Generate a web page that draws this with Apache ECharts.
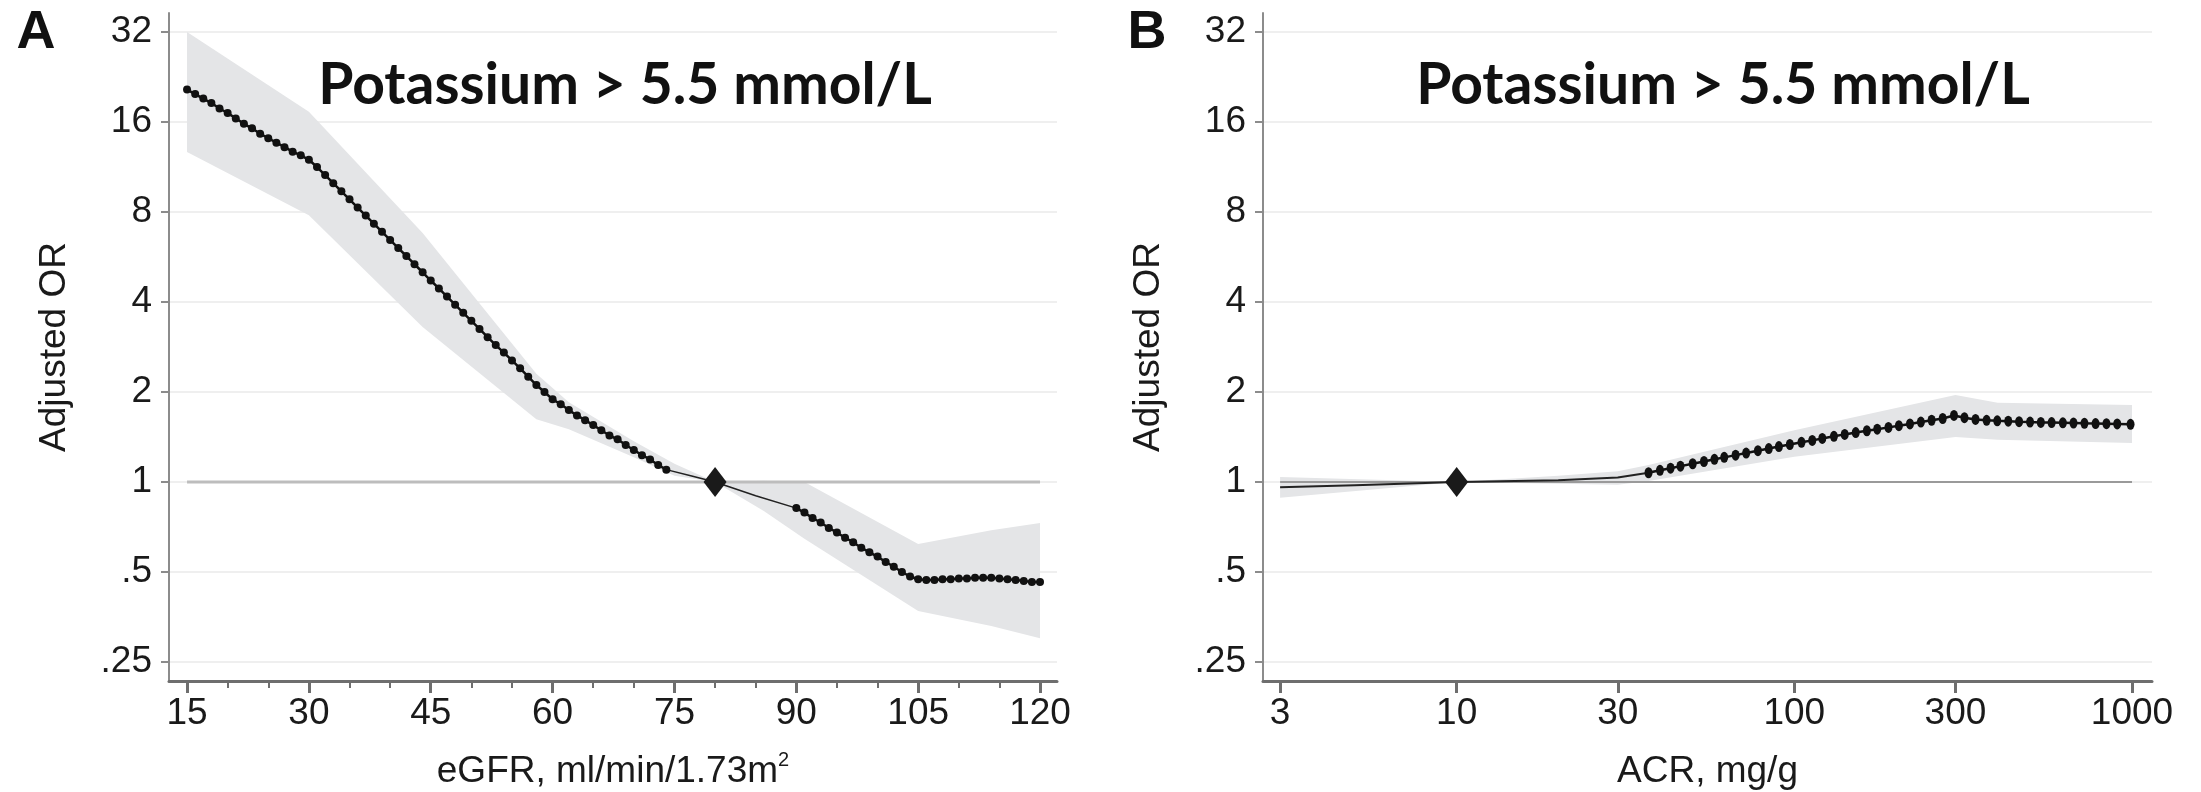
<!DOCTYPE html>
<html>
<head>
<meta charset="utf-8">
<script src="https://cdn.jsdelivr.net/npm/echarts@6/dist/echarts.min.js"></script>
<style>
html, body { margin: 0; background: #fff; }
#main { width: 2201px; height: 792px; }
</style>
</head>
<body>
<div id="main"></div>
<script>
// odds ratio axis (both panels, log2 scale)
const orTicks = [0.25, 0.5, 1, 2, 4, 8, 16, 32];
const orLabels = ['.25', '.5', '1', '2', '4', '8', '16', '32'];

// panel A - eGFR
const egfrTicks = [15, 30, 45, 60, 75, 90, 105, 120];
const egfrMinor = [20, 25, 35, 40, 50, 55, 65, 70, 80, 85, 95, 100, 110, 115];
const egfrLow = [15, 16, 17, 18, 19, 20, 21, 22, 23, 24, 25, 26, 27, 28, 29, 30,
    31, 32, 33, 34, 35, 36, 37, 38, 39, 40, 41, 42, 43, 44, 45, 46, 47, 48, 49, 50,
    51, 52, 53, 54, 55, 56, 57, 58, 59, 60, 61, 62, 63, 64, 65, 66, 67, 68, 69, 70,
    71, 72, 73, 74];
const orLow = [20.53, 19.84, 19.16, 18.51, 17.75, 17.15, 16.45, 15.78, 15.24, 14.62,
    14.12, 13.64, 13.18, 12.73, 12.38, 11.96, 11.31, 10.63, 9.99, 9.38, 8.82, 8.28,
    7.78, 7.31, 6.87, 6.45, 6.06, 5.70, 5.35, 5.03, 4.72, 4.44, 4.17, 3.92, 3.68,
    3.46, 3.25, 3.05, 2.87, 2.71, 2.55, 2.40, 2.25, 2.11, 2.00, 1.89, 1.82, 1.74,
    1.67, 1.61, 1.55, 1.49, 1.43, 1.39, 1.33, 1.28, 1.23, 1.19, 1.14, 1.10];
const egfrHigh = [90, 91, 92, 93, 94, 95, 96, 97, 98, 99, 100, 101, 102, 103, 104, 105,
    106, 107, 108, 109, 110, 111, 112, 113, 114, 115, 116, 117, 118, 119, 120];
const orHigh = [0.818, 0.790, 0.758, 0.732, 0.702, 0.678, 0.651, 0.629, 0.603, 0.582,
    0.563, 0.540, 0.521, 0.500, 0.483, 0.473, 0.470, 0.470, 0.473, 0.473, 0.476,
    0.476, 0.478, 0.478, 0.478, 0.476, 0.473, 0.470, 0.467, 0.463, 0.463];
const egfrThin = [74, 77, 80, 85, 90];
const orThin = [1.10, 1.05, 1.0, 0.90, 0.818];
const egfrBand = [15, 30, 44, 58, 62, 70, 75, 80, 86, 91, 105, 114, 120];
const upperA = [32, 17.3, 6.8, 2.3, 1.85, 1.37, 1.15, 1.0, 1.01, 1.0, 0.62, 0.69, 0.73];
const lowerA = [12.7, 7.8, 3.3, 1.62, 1.5, 1.21, 1.05, 1.0, 0.80, 0.646, 0.37, 0.33, 0.30];
const refA = [80, 1];

// panel B - ACR
const acrTicks = [3, 10, 30, 100, 300, 1000];
const acrDots = [37, 40, 43, 46, 50, 54, 58, 62, 67, 72, 78, 84, 90, 97, 105, 113, 121,
    131, 141, 152, 164, 176, 190, 204, 220, 237, 255, 275, 297, 319, 344, 371, 399,
    430, 463, 499, 537, 578, 624, 671, 723, 780, 840, 904, 990];
const orDots = [1.074, 1.094, 1.112, 1.130, 1.151, 1.171, 1.191, 1.209, 1.230, 1.250,
    1.273, 1.294, 1.314, 1.335, 1.358, 1.378, 1.399, 1.422, 1.443, 1.463, 1.484,
    1.502, 1.523, 1.543, 1.564, 1.587, 1.609, 1.631, 1.670, 1.641, 1.619, 1.608,
    1.602, 1.597, 1.591, 1.586, 1.582, 1.580, 1.578, 1.575, 1.571, 1.569, 1.567,
    1.564, 1.560];
const acrThin = [3, 5, 10, 20, 30, 37];
const orThinB = [0.96, 0.976, 1.0, 1.014, 1.036, 1.074];
const acrBand = [3, 10, 20, 30, 37, 100, 300, 400, 1000];
const upperB = [1.04, 1.0, 1.05, 1.087, 1.14, 1.49, 1.955, 1.84, 1.81];
const lowerB = [0.886, 1.0, 0.986, 0.98, 1.007, 1.214, 1.414, 1.385, 1.35];
const refB = [10, 1];

const pairs = (xs, ys) => xs.map((x, i) => [x, ys[i]]);

const FONT = 'Liberation Sans';
const ink = '#1a1a1a';
const bandColor = '#e4e5e7';

// confidence band: one polygon, upper edge forward then lower edge back
function bandSeries(xAxisIndex, yAxisIndex, xs, upper, lower) {
    return {
        type: 'custom', xAxisIndex, yAxisIndex, clip: true, silent: true,
        data: xs.map((x, i) => [x, lower[i], upper[i]]),
        renderItem: (params, api) => {
            if (params.dataIndex !== 0) return null;
            const top = xs.map((x, i) => api.coord([x, upper[i]]));
            const bottom = xs.map((x, i) => api.coord([x, lower[i]])).reverse();
            return {
                type: 'polygon',
                shape: { points: top.concat(bottom) },
                style: { fill: bandColor }
            };
        }
    };
}

function yAxisFor(grid) {
    return {
        type: 'log', logBase: 2, gridIndex: grid,
        min: 0.216, max: 37.04,
        name: 'Adjusted OR', nameLocation: 'middle', nameGap: 96,
        nameTextStyle: { fontFamily: FONT, fontSize: 37, color: ink },
        axisLine: { show: true, lineStyle: { color: '#8c8c8c', width: 2 } },
        axisTick: { show: true, length: 8, customValues: orTicks,
            lineStyle: { color: '#8c8c8c', width: 2 } },
        axisLabel: {
            customValues: orTicks, margin: 17,
            fontFamily: FONT, fontSize: 37, color: ink,
            formatter: v => {
                const i = orTicks.findIndex(t => Math.abs(t - v) / t < 1e-3);
                return i < 0 ? '' : orLabels[i];
            }
        },
        splitLine: { show: true, lineStyle: { color: '#efefef', width: 2 } }
    };
}

const xLine = { color: '#6e6e6e', width: 3 };
const dotStyle = { color: '#111', opacity: 1 };

let options = {
    animation: false,
    backgroundColor: '#fff',
    grid: [
        { left: 169, top: 13, width: 888, height: 668, containLabel: false, outerBoundsMode: 'none' },
        { left: 1263, top: 13, width: 889, height: 668, containLabel: false, outerBoundsMode: 'none' }
    ],
    xAxis: [
        {
            type: 'value', gridIndex: 0, position: 'bottom',
            min: 12.78, max: 122.09,
            name: 'eGFR, ml/min/1.73m{sup|2}', nameLocation: 'middle', nameGap: 69,
            nameTextStyle: { fontFamily: FONT, fontSize: 37, color: ink, lineHeight: 44,
                rich: { sup: { fontFamily: FONT, fontSize: 20, color: ink, lineHeight: 20, verticalAlign: 'top' } } },
            axisLine: { lineStyle: xLine },
            axisTick: { length: 12, customValues: egfrTicks, lineStyle: xLine },
            axisLabel: { customValues: egfrTicks, margin: 14, fontFamily: FONT, fontSize: 37, color: ink },
            splitLine: { show: false }
        },
        {
            type: 'value', gridIndex: 0, position: 'bottom',
            min: 12.78, max: 122.09,
            axisLine: { show: false },
            axisTick: { length: 7, customValues: egfrMinor, lineStyle: { color: '#6e6e6e', width: 2 } },
            axisLabel: { show: false },
            splitLine: { show: false }
        },
        {
            type: 'log', logBase: 10, gridIndex: 1, position: 'bottom',
            min: 2.67, max: 1146,
            name: 'ACR, mg/g', nameLocation: 'middle', nameGap: 69,
            nameTextStyle: { fontFamily: FONT, fontSize: 37, color: ink, lineHeight: 44 },
            axisLine: { lineStyle: xLine },
            axisTick: { length: 12, customValues: acrTicks, lineStyle: xLine },
            axisLabel: { customValues: acrTicks, margin: 14, fontFamily: FONT, fontSize: 37, color: ink,
                formatter: v => String(Math.round(v)) },
            splitLine: { show: false },
            minorTick: { show: false }
        }
    ],
    yAxis: [yAxisFor(0), yAxisFor(1)],
    graphic: [
        { type: 'text', x: 36, y: 33, style: { text: 'A', font: 'bold 54px "Liberation Sans"', fill: '#111',
            align: 'center', verticalAlign: 'middle', textAlign: 'center', textVerticalAlign: 'middle' } },
        { type: 'text', x: 1147, y: 33, style: { text: 'B', font: 'bold 54px "Liberation Sans"', fill: '#111',
            align: 'center', verticalAlign: 'middle', textAlign: 'center', textVerticalAlign: 'middle' } },
        { type: 'text', x: 625, y: 86, z: 10, style: { text: 'Potassium > 5.5 mmol/L', font: 'bold 57px Lato', fill: '#111',
            align: 'center', verticalAlign: 'middle', textAlign: 'center', textVerticalAlign: 'middle' } },
        { type: 'text', x: 1723, y: 86, z: 10, style: { text: 'Potassium > 5.5 mmol/L', font: 'bold 57px Lato', fill: '#111',
            align: 'center', verticalAlign: 'middle', textAlign: 'center', textVerticalAlign: 'middle' } }
    ],
    series: [
        // panel A
        bandSeries(0, 0, egfrBand, upperA, lowerA),
        { type: 'line', xAxisIndex: 0, yAxisIndex: 0, symbol: 'none',
          lineStyle: { color: '#bdbdbd', width: 3 }, data: [[egfrTicks[0], 1], [egfrTicks[egfrTicks.length - 1], 1]] },
        { type: 'line', xAxisIndex: 0, yAxisIndex: 0, symbol: 'none',
          lineStyle: { color: '#222', width: 1.5 }, data: pairs(egfrThin, orThin) },
        { type: 'line', xAxisIndex: 0, yAxisIndex: 0, symbol: 'circle', symbolSize: 8,
          itemStyle: dotStyle, lineStyle: { color: '#111', width: 2.5 }, data: pairs(egfrLow, orLow) },
        { type: 'line', xAxisIndex: 0, yAxisIndex: 0, symbol: 'circle', symbolSize: 8,
          itemStyle: dotStyle, lineStyle: { color: '#111', width: 2.5 }, data: pairs(egfrHigh, orHigh) },
        { type: 'scatter', xAxisIndex: 0, yAxisIndex: 0, symbol: 'diamond', symbolSize: [23, 30],
          itemStyle: { color: '#1a1a1a', opacity: 1 }, z: 5, data: [refA] },
        // panel B
        bandSeries(2, 1, acrBand, upperB, lowerB),
        { type: 'line', xAxisIndex: 2, yAxisIndex: 1, symbol: 'none',
          lineStyle: { color: '#9a9a9a', width: 2 }, data: [[acrTicks[0], 1], [acrTicks[acrTicks.length - 1], 1]] },
        { type: 'line', xAxisIndex: 2, yAxisIndex: 1, symbol: 'none',
          lineStyle: { color: '#222', width: 2 }, data: pairs(acrThin, orThinB) },
        { type: 'line', xAxisIndex: 2, yAxisIndex: 1, symbol: 'circle', symbolSize: [8, 11],
          itemStyle: dotStyle, lineStyle: { color: '#111', width: 2.5 }, data: pairs(acrDots, orDots) },
        { type: 'scatter', xAxisIndex: 2, yAxisIndex: 1, symbol: 'diamond', symbolSize: [23, 30],
          itemStyle: { color: '#1a1a1a', opacity: 1 }, z: 5, data: [refB] }
    ]
};

let myChart = echarts.init(document.getElementById('main'));
myChart.setOption(options);
</script>
</body>
</html>
